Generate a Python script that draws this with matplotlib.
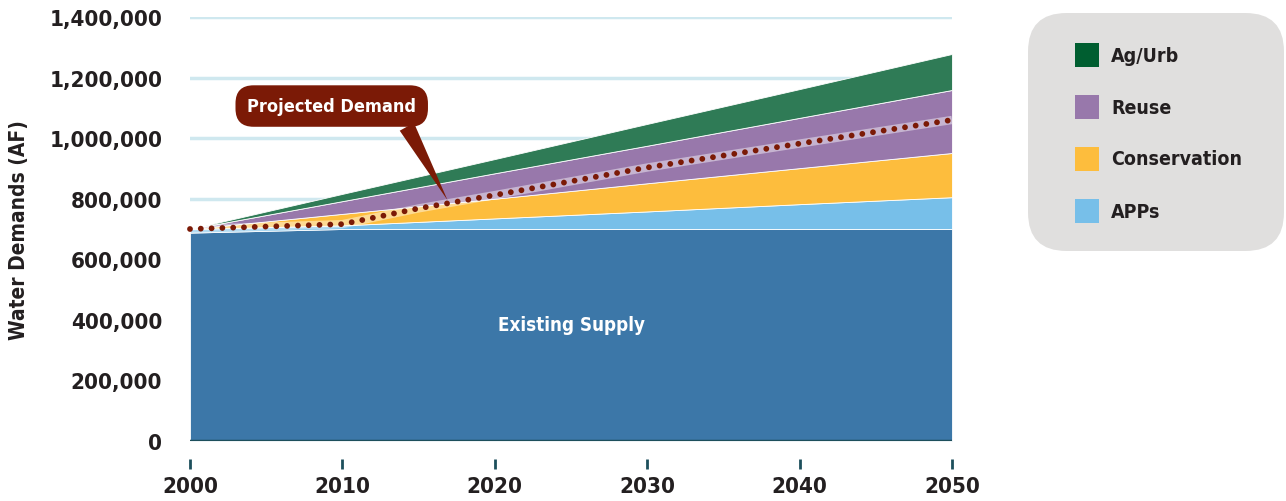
import matplotlib.pyplot as plt
from matplotlib.patches import FancyBboxPatch, Rectangle
from matplotlib.ticker import FuncFormatter

plt.rcParams['font.family'] = ['DejaVu Sans']
plt.rcParams['font.stretch'] = 'condensed'
plt.rcParams['font.weight'] = 'bold'

# Data (acre-feet)
years = [2000, 2010, 2020, 2030, 2040, 2050]
existing_supply = [688000, 700000, 700000, 700000, 700000, 700000]
apps = [12000, 12000, 35000, 58000, 82000, 105000]
conservation = [0, 38000, 65000, 93000, 119000, 146000]
reuse = [0, 42000, 84000, 124000, 166000, 208000]
ag_urb = [0, 24000, 47000, 72000, 95000, 119000]

demand_years = [2000, 2010, 2015, 2020, 2030, 2040, 2050]
projected_demand = [700000, 716000, 768000, 812000, 903000, 982000, 1060000]

area_colors = ['#3c77a8', '#77bfe9', '#fdbd3d', '#9878ab', '#2f7b56']
legend_labels = ['Ag/Urb', 'Reuse', 'Conservation', 'APPs']
legend_colors = ['#005e30', '#9878ab', '#fdbd3d', '#77bfe9']
y_ticks = [0, 200000, 400000, 600000, 800000, 1000000, 1200000, 1400000]

fig = plt.figure(figsize=(12.86, 5.02), dpi=100)
ax = fig.add_axes([190 / 1286, 1 - 442 / 502, 762 / 1286, 424 / 502])

ax.stackplot(years, existing_supply, apps, conservation, reuse, ag_urb,
             colors=area_colors, linewidth=0.6, edgecolor='white', zorder=2)

# projected demand: light halo + dots
ax.plot(demand_years, projected_demand, color='white', lw=6, alpha=0.45,
        solid_capstyle='butt', zorder=3)
ax.plot(demand_years, projected_demand, color='#7b1a06', lw=4.2,
        linestyle=(0, (0.001, 1.85)), dash_capstyle='round', zorder=4,
        clip_on=False)

ax.axhline(0, color='#1d4f5c', lw=2.5, zorder=5)

ax.set_xlim(2000, 2050)
ax.set_ylim(0, 1400000)
ax.set_xticks(years)
ax.set_yticks(y_ticks)
ax.yaxis.set_major_formatter(FuncFormatter(lambda v, p: f'{int(v):,}'))
ax.grid(axis='y', color='#cfe8ef', lw=2.5, zorder=1)
ax.set_axisbelow(True)
for s in ax.spines.values():
    s.set_visible(False)
ax.spines['bottom'].set_position(('outward', 13))
ax.tick_params(axis='y', length=0, pad=20, labelsize=16, labelcolor='#231f20')
ax.tick_params(axis='x', length=7, width=2, color='#1d4f5c', pad=5,
               labelsize=16, labelcolor='#231f20')
for lab in ax.get_xticklabels() + ax.get_yticklabels():
    lab.set_fontweight('bold')

ax.set_ylabel('Water Demands (AF)', fontsize=15, fontweight='bold',
              color='#231f20')
ax.yaxis.set_label_coords(-161 / 762, 0.5)

ax.text(2025, 386000, 'Existing Supply', color='white', fontsize=13.5,
        fontweight='bold', ha='center', va='center', zorder=6)

ax.annotate('Projected Demand', xy=(2016.9, 795000), xytext=(2009.3, 1106000),
            ha='center', va='center', color='white', fontsize=13,
            fontweight='bold', zorder=7, annotation_clip=False,
            bbox=dict(boxstyle='round,pad=0.65,rounding_size=1.0',
                      fc='#7b1a06', ec='none'),
            arrowprops=dict(arrowstyle='wedge,tail_width=0.9,shrink_factor=0.5',
                            fc='#7b1a06', ec='none', relpos=(0.9, 0.1),
                            shrinkA=0, shrinkB=0))

# legend panel
W, H = 1286, 502
fig.patches.append(FancyBboxPatch((1028 / W, 1 - 252 / H), 256 / W, 238 / H,
                                  boxstyle='round,pad=0,rounding_size=0.03',
                                  transform=fig.transFigure, fc='#e0dfde',
                                  ec='none', mutation_aspect=W / H))
for i, (lab, col) in enumerate(zip(legend_labels, legend_colors)):
    yc = 56 + i * 52
    fig.patches.append(Rectangle((1075 / W, 1 - (yc + 12) / H), 24 / W, 24 / H,
                                 transform=fig.transFigure, fc=col, ec='none'))
    fig.text(1111 / W, 1 - yc / H, lab, fontsize=14, fontweight='bold',
             color='#231f20', va='center', ha='left')

fig.savefig('out.png', dpi=100)
